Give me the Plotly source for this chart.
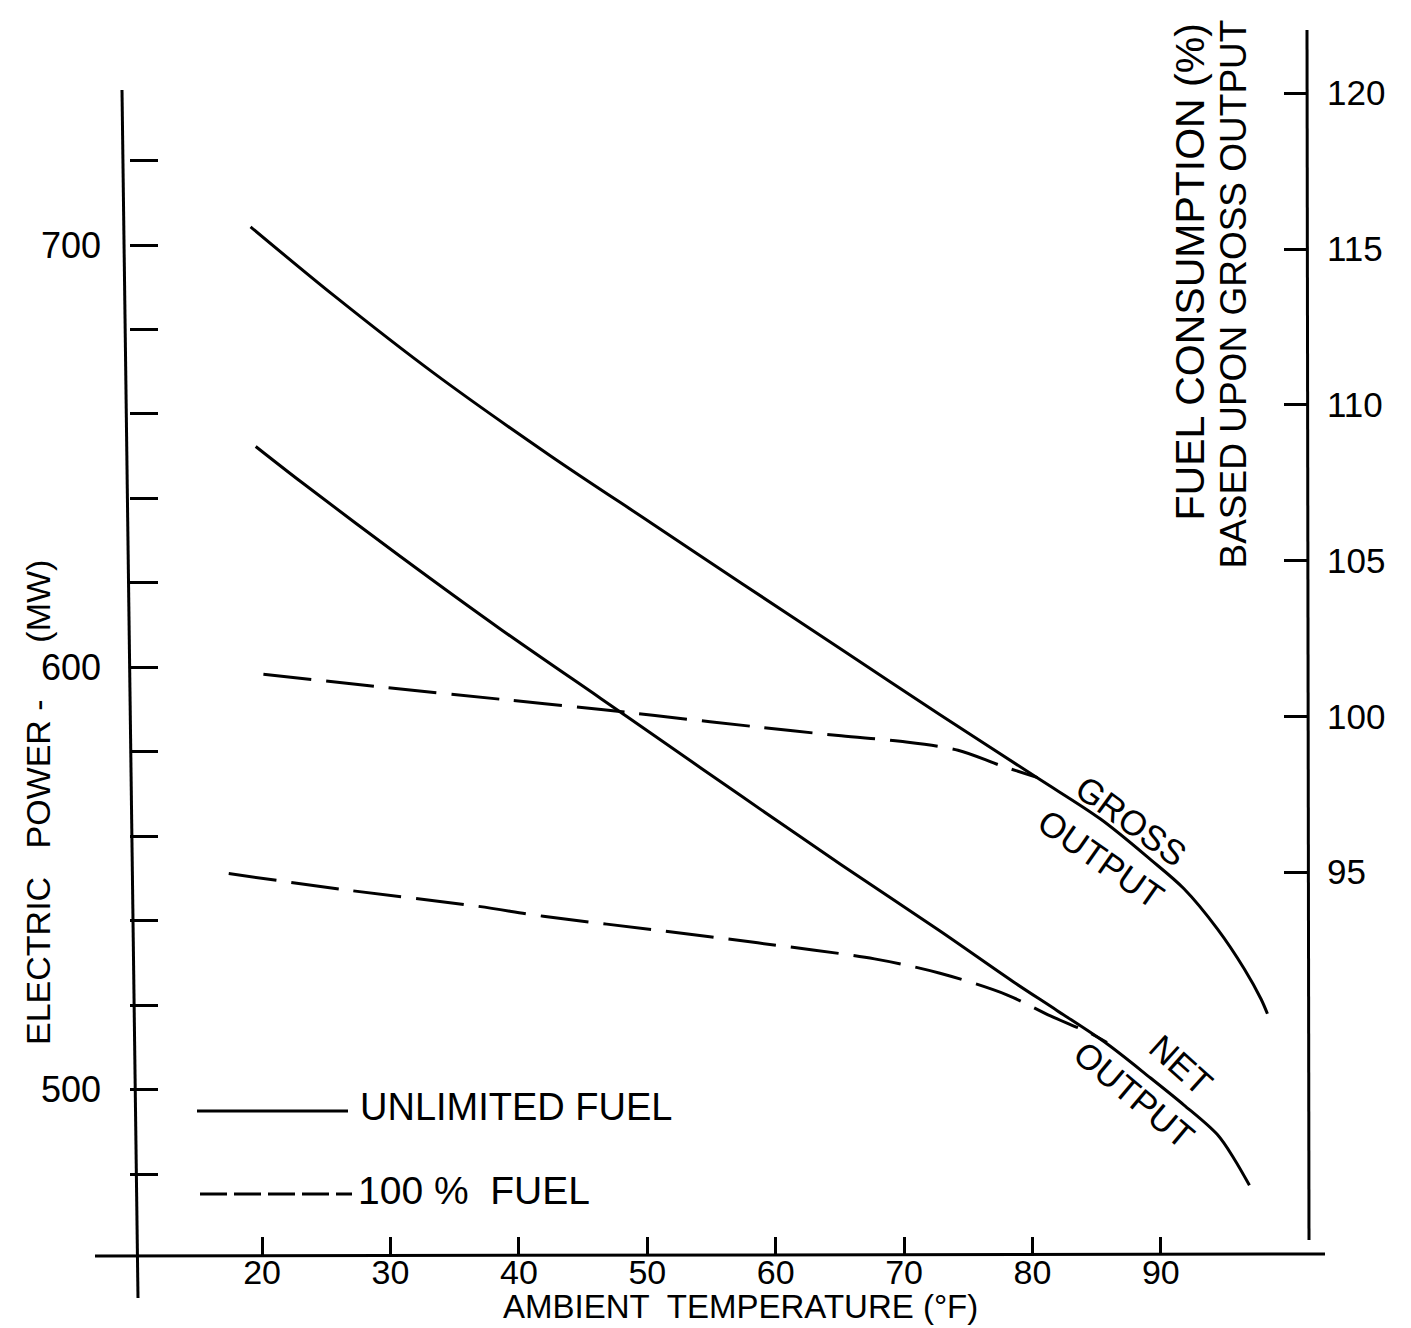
import plotly.graph_objects as go

# ---- data (ambient temperature °F, electric power MW) ----
gross_unl_T = [19.1, 25.6, 33.4, 42.5, 50.3, 57.3, 65.1, 72.8, 80.4, 85.3, 89.2, 91.8, 94.4, 96.5, 97.8, 98.3]
gross_unl_MW = [704.3, 688.0, 669.6, 650.0, 634.2, 620.0, 604.3, 588.8, 573.8, 564.1, 554.5, 547.6, 538.1, 528.6, 521.5, 518.0]

net_unl_T = [19.5, 23.0, 30.8, 38.6, 46.4, 50.2, 57.3, 65.1, 72.8, 78.5, 81.9, 85.8, 89.2, 91.8, 94.4, 95.7, 96.9]
net_unl_MW = [652.3, 644.0, 626.2, 609.0, 592.6, 584.6, 569.6, 553.3, 537.6, 525.6, 518.8, 510.9, 502.8, 496.4, 489.4, 483.7, 477.4]

gross_100_T = [20.1, 28.9, 39.1, 46.6, 50.6, 58.6, 65.1, 69.7, 74.2, 77.5, 80.4]
gross_100_MW = [598.4, 595.5, 592.3, 590.0, 588.6, 585.9, 583.8, 582.5, 580.4, 576.8, 573.9]

net_100_T = [17.4, 26.6, 36.7, 41.9, 51.3, 58.6, 67.7, 72.8, 78.0, 81.4, 84.5, 85.8]
net_100_MW = [551.2, 547.3, 543.5, 541.1, 537.6, 534.8, 531.0, 527.6, 522.5, 517.5, 513.4, 511.2]

x_ticks = [20, 30, 40, 50, 60, 70, 80, 90]
y_ticks = [480, 500, 520, 540, 560, 580, 600, 620, 640, 660, 680, 700, 720]
y_tick_labels = ["" if v % 100 else str(v) for v in y_ticks]
y2_ticks = [95, 100, 105, 110, 115, 120]

FONT = "Liberation Sans"
INK = "black"

fig = go.Figure()

def curve(x, y, dash):
    fig.add_trace(go.Scatter(
        x=x, y=y, mode="lines", showlegend=False, hoverinfo="skip",
        line=dict(color=INK, width=3, dash=dash, shape="spline", smoothing=0.9),
    ))

curve(gross_unl_T, gross_unl_MW, "solid")
curve(net_unl_T, net_unl_MW, "solid")
curve(gross_100_T, gross_100_MW, "48px,15px")
curve(net_100_T, net_100_MW, "48px,15px")

# empty trace to bind the right-hand axis
fig.add_trace(go.Scatter(x=[None], y=[None], yaxis="y2", showlegend=False, hoverinfo="skip"))

# page body has an 8px margin; work in screen pixels and convert
OFF = 8
W, H = 1403, 1320
L, T = 130 - OFF, 30 - OFF
R = W - (1308 - OFF)
B = H - (1255 - OFF)
pw, ph = W - L - R, H - T - B

def px(xs):
    return (xs - OFF - L) / pw

def py(ys):
    return (H - B - (ys - OFF)) / ph

shapes = [
    # axis lines (hand-drawn extents)
    dict(type="line", xref="paper", yref="paper", x0=px(122), x1=px(138), y0=py(90), y1=py(1298),
         line=dict(color=INK, width=3)),
    dict(type="line", xref="paper", yref="paper", x0=px(95), x1=px(1325), y0=py(1256), y1=py(1254),
         line=dict(color=INK, width=3)),
    dict(type="line", xref="paper", yref="paper", x0=px(1307), x1=px(1309), y0=py(30), y1=py(1240),
         line=dict(color=INK, width=3)),
    # legend samples
    dict(type="line", xref="paper", yref="paper", x0=px(197), x1=px(348), y0=py(1111), y1=py(1111),
         line=dict(color=INK, width=3)),
    dict(type="line", xref="paper", yref="paper", x0=px(200), x1=px(352), y0=py(1194), y1=py(1194),
         line=dict(color=INK, width=3, dash="27px,7px")),
]

def f(size):
    return dict(family=FONT, size=size, color=INK)

annotations = [
    dict(text="AMBIENT  TEMPERATURE (°F)", xref="paper", yref="paper", x=px(740), y=py(1306),
         showarrow=False, font=f(33), xanchor="center", yanchor="middle"),
    dict(text="ELECTRIC   POWER -      (MW)", xref="paper", yref="paper", x=px(38), y=py(803),
         showarrow=False, font=f(34), textangle=-90, xanchor="center", yanchor="middle"),
    dict(text="FUEL CONSUMPTION (%)", xref="paper", yref="paper", x=px(1190), y=py(22),
         showarrow=False, font=f(41), textangle=-90, xanchor="center", yanchor="top"),
    dict(text="BASED UPON GROSS OUTPUT", xref="paper", yref="paper", x=px(1233), y=py(18),
         showarrow=False, font=f(37), textangle=-90, xanchor="center", yanchor="top"),
    dict(text="UNLIMITED FUEL", xref="paper", yref="paper", x=px(358), y=py(1107),
         showarrow=False, font=f(38), xanchor="left", yanchor="middle"),
    dict(text="100 %  FUEL", xref="paper", yref="paper", x=px(356), y=py(1190),
         showarrow=False, font=f(39), xanchor="left", yanchor="middle"),
    # curve labels
    dict(text="GROSS", x=87.65, y=563.7, showarrow=False, textangle=36, font=f(35)),
    dict(text="OUTPUT", x=85.3, y=554.7, showarrow=False, textangle=35, font=f(35)),
    dict(text="NET", x=91.55, y=505.9, showarrow=False, textangle=42, font=f(35)),
    dict(text="OUTPUT", x=87.9, y=498.8, showarrow=False, textangle=40, font=f(35)),
]

fig.update_layout(
    width=W, height=H,
    margin=dict(l=L, r=R, t=T, b=B),
    paper_bgcolor="white", plot_bgcolor="white",
    showlegend=False,
    xaxis=dict(range=[9.71, 101.46], tickvals=x_ticks, ticks="inside", ticklen=18, tickwidth=3,
               tickcolor=INK, showline=False, showgrid=False, zeroline=False, tickfont=f(34),
               ticklabelstandoff=-6),
    yaxis=dict(range=[460.9, 750.9], tickvals=y_ticks, ticktext=y_tick_labels, ticks="inside",
               ticklen=28, tickwidth=3, tickcolor=INK, showline=False, showgrid=False, zeroline=False,
               tickfont=f(36), ticklabelstandoff=28),
    yaxis2=dict(range=[82.71, 122.03], overlaying="y", side="right", tickvals=y2_ticks,
                ticks="inside", ticklen=24, tickwidth=3, tickcolor=INK, showline=False,
                showgrid=False, zeroline=False, tickfont=f(35), ticklabelstandoff=18),
    shapes=shapes,
    annotations=annotations,
)

fig.write_html("out.html")
